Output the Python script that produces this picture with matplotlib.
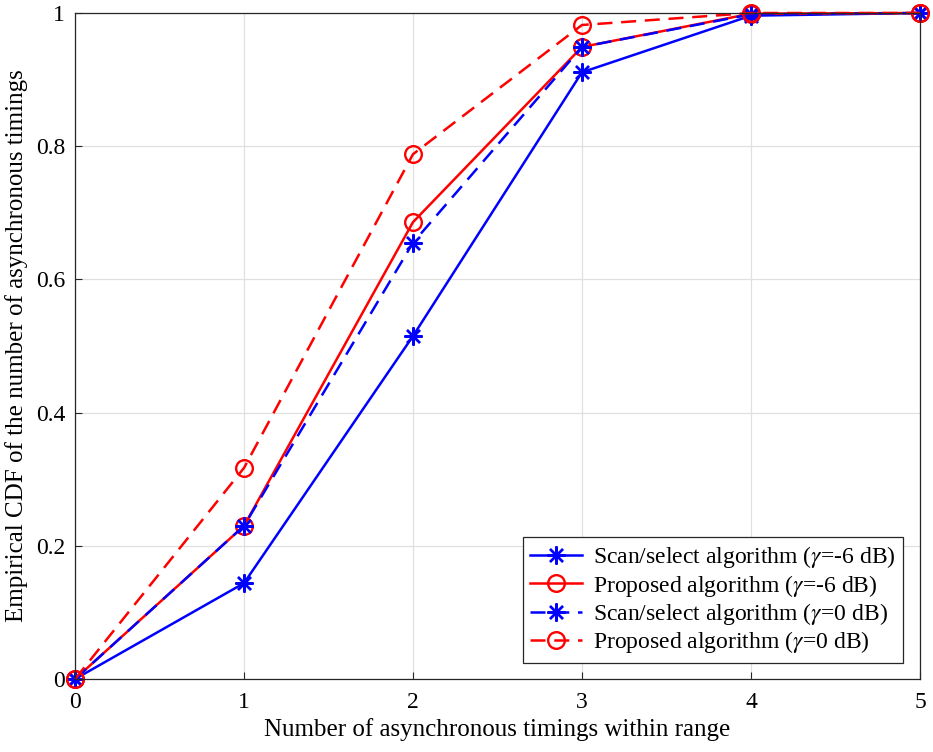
import numpy as np
import matplotlib.pyplot as plt

plt.rcParams['font.family'] = 'Liberation Serif'
plt.rcParams['mathtext.fontset'] = 'stix'

# number of asynchronous timings
x_vals = [0, 1, 2, 3, 4, 5]

# empirical CDF values
scan_m6 = [0.0, 0.144, 0.515, 0.911, 0.996, 1.0]
prop_m6 = [0.0, 0.230, 0.686, 0.949, 0.999, 1.0]
scan_0 = [0.0, 0.230, 0.655, 0.949, 0.998, 1.0]
prop_0 = [0.0, 0.317, 0.788, 0.982, 1.0, 1.0]

labels = [r'Scan/select algorithm ($\gamma$=-6 dB)',
          r'Proposed algorithm ($\gamma$=-6 dB)',
          r'Scan/select algorithm ($\gamma$=0 dB)',
          r'Proposed algorithm ($\gamma$=0 dB)']

fig = plt.figure(figsize=(9.33, 7.52), dpi=100)
ax = fig.add_axes([0.0804, 0.097, 0.9056, 0.8857])

star = (8, 2, 0)
lw = 1.8
ax.plot(x_vals, scan_m6, color='b', lw=lw, marker=star, ms=13, mew=1.7, label=labels[0], clip_on=False)
ax.plot(x_vals, prop_m6, color='r', lw=lw, marker='o', ms=12, mew=1.7, mfc='none', label=labels[1], clip_on=False)
ax.plot(x_vals, scan_0, color='b', lw=lw, ls='--', dashes=(6, 3.5), marker=star, ms=13, mew=1.7,
        label=labels[2], clip_on=False)
ax.plot(x_vals, prop_0, color='r', lw=lw, ls='--', dashes=(6, 3.5), marker='o', ms=12, mew=1.7, mfc='none',
        label=labels[3], clip_on=False)

ax.set_xlim(0, 5)
ax.set_ylim(0, 1)
ax.set_xticks(range(6))
ax.set_yticks([0, 0.2, 0.4, 0.6, 0.8, 1])
ax.set_yticklabels(['0', '0.2', '0.4', '0.6', '0.8', '1'])
ax.grid(True, color='#e0e0e0', lw=0.9)
ax.set_axisbelow(True)
ax.tick_params(labelsize=17, direction='in', length=5, color='#262626')
ax.tick_params(axis='x', pad=9)
ax.tick_params(axis='y', pad=7)
for s in ax.spines.values():
    s.set_color('#262626')
    s.set_linewidth(0.9)

ax.set_xlabel('Number of asynchronous timings within range', fontsize=18, labelpad=4)
ax.set_ylabel('Empirical CDF of the number of asynchronous timings', fontsize=18, labelpad=6)

leg = ax.legend(loc='lower right', fontsize=17, fancybox=False, framealpha=1,
                edgecolor='#262626', borderaxespad=0.7, handlelength=2.2,
                handletextpad=0.5, labelspacing=0.1, borderpad=0.3)
leg.get_frame().set_linewidth(0.9)

fig.savefig('out.png', dpi=100)
